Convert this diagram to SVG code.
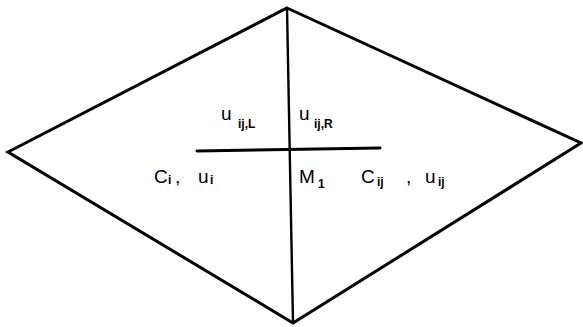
<svg xmlns="http://www.w3.org/2000/svg" width="583" height="327" viewBox="0 0 583 327">
<style>
.ln{fill:none;stroke:#000;stroke-width:3;stroke-linejoin:miter;stroke-linecap:round}
.t{font-family:"Liberation Sans",Arial,sans-serif;font-size:19px;fill:#000}
.s{font-size:12px;font-weight:bold}
</style>
<rect width="583" height="327" fill="#fff"/>
<g id="edges">
<polygon class="ln" points="287,8 581,143 293,323 8,152"/>
<line class="ln" x1="287" y1="8" x2="293" y2="323" style="stroke-width:2.4"/>
<line class="ln" x1="197" y1="151" x2="380" y2="148"/>
</g>
<g id="labels">
<text class="t" x="221" y="120">u<tspan class="s" x="238" y="128">ij,L</tspan></text>
<text class="t" x="299" y="120">u<tspan class="s" x="314" y="128">ij,R</tspan></text>
<text class="t" x="154" y="183">C<tspan class="s" x="168" y="184">i</tspan><tspan x="175" y="183">,</tspan><tspan x="198" y="183">u</tspan><tspan class="s" x="210" y="184">i</tspan></text>
<text class="t" x="299" y="183">M<tspan class="s" x="318" y="188">1</tspan></text>
<text class="t" x="361" y="183">C<tspan class="s" x="377" y="186">ij</tspan><tspan x="406" y="183">,</tspan><tspan x="425" y="183">u</tspan><tspan class="s" x="438" y="186">ij</tspan></text>
</g>
</svg>
